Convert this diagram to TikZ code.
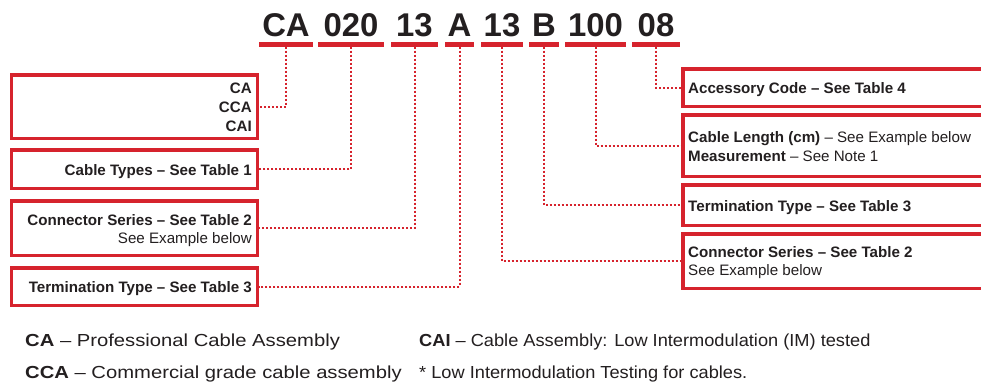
\documentclass[tikz,border=0pt]{standalone}
\usepackage{fontspec}
\setmainfont{Liberation Sans}
\newfontfamily\botL[FakeStretch=1.16]{Liberation Sans}
\newfontfamily\botR[FakeStretch=1.045]{Liberation Sans}
\definecolor{cred}{RGB}{214,35,45}
\definecolor{ink}{RGB}{35,31,32}
\begin{document}
\begin{tikzpicture}[x=1bp,y=-1bp,
  box/.style={draw=cred,line width=3.5bp,inner sep=0pt,rectangle,fill=white},
  uline/.style={fill=cred,inner sep=0pt,minimum height=5bp,rectangle},
  code/.style={font=\fontsize{33}{33}\selectfont\bfseries,text=ink,inner sep=0pt,anchor=base},
  lbl/.style={font=\fontsize{15.2}{18}\selectfont,text=ink,inner sep=0pt},
  conn/.style={draw=cred,line width=2bp,dash pattern=on 2bp off 2bp},
  botl/.style={font=\botL\fontsize{17.5}{20}\selectfont,text=ink,inner sep=0pt,anchor=base west},
  botr/.style={font=\botR\fontsize{17.5}{20}\selectfont,text=ink,inner sep=0pt,anchor=base west}]
\clip (0,0) rectangle (981,386);
\fill[white] (0,0) rectangle (981,386);

% title code
\node[code] (c1) at (286,36.5) {CA};
\node[code] (c2) at (351,36.5) {020};
\node[code] (c3) at (414.5,36.5) {13};
\node[code] (c4) at (459.5,36.5) {A};
\node[code] (c5) at (502,36.5) {13};
\node[code] (c6) at (544,36.5) {B};
\node[code] (c7) at (595.5,36.5) {100};
\node[code] (c8) at (656,36.5) {08};

% underlines
\node[uline,minimum width=54bp] (u1) at (286,44) {};
\node[uline,minimum width=66bp] (u2) at (351,44) {};
\node[uline,minimum width=47bp] (u3) at (414.5,44) {};
\node[uline,minimum width=29bp] (u4) at (459.5,44) {};
\node[uline,minimum width=42bp] (u5) at (502,44) {};
\node[uline,minimum width=30bp] (u6) at (544,44) {};
\node[uline,minimum width=61bp] (u7) at (595.5,44) {};
\node[uline,minimum width=48bp] (u8) at (656,44) {};

% left boxes
\node[box,minimum width=245.5bp,minimum height=63.5bp] (bL1) at (134.5,106.5) {};
\node[box,minimum width=245.5bp,minimum height=38.5bp] (bL2) at (134.5,169) {};
\node[box,minimum width=245.5bp,minimum height=54.5bp] (bL3) at (134.5,228) {};
\node[box,minimum width=245.5bp,minimum height=37.5bp] (bL4) at (134.5,286.5) {};

% right boxes
\node[box,minimum width=320bp,minimum height=37.5bp] (bR1) at (842.75,87.5) {};
\node[box,minimum width=320bp,minimum height=61.5bp] (bR2) at (842.75,145.5) {};
\node[box,minimum width=320bp,minimum height=40.5bp] (bR3) at (842.75,205) {};
\node[box,minimum width=320bp,minimum height=54.5bp] (bR4) at (842.75,261) {};

% connectors
\draw[conn] (u1.south) |- (bL1.east);
\draw[conn] (u2.south) |- (bL2.east);
\draw[conn] (u3.south) |- (bL3.east);
\draw[conn] (u4.south) |- (bL4.east);
\draw[conn] (u5.south) |- (bR4.west);
\draw[conn] (u6.south) |- (bR3.west);
\draw[conn] (u7.south) |- (bR2.west);
\draw[conn] (u8.south) |- (bR1.west);

% left box texts
\node[lbl,anchor=base east] (t1a) at (252,93) {\bfseries CA};
\node[lbl,anchor=base east] (t1b) at (252,112) {\bfseries CCA};
\node[lbl,anchor=base east] (t1c) at (252,131) {\bfseries CAI};
\node[lbl,anchor=base east] (t2) at (252,175) {\bfseries Cable Types – See Table 1};
\node[lbl,anchor=base east] (t3a) at (252,225) {\bfseries Connector Series – See Table 2};
\node[lbl,anchor=base east] (t3b) at (252,243) {See Example below};
\node[lbl,anchor=base east] (t4) at (252,292) {\bfseries Termination Type – See Table 3};

% right box texts
\node[lbl,anchor=base west] (r1) at (688,93) {\bfseries Accessory Code – See Table 4};
\node[lbl,anchor=base west] (r2a) at (688,142) {\textbf{Cable Length (cm)} – See Example below};
\node[lbl,anchor=base west] (r2b) at (688,161) {\textbf{Measurement} – See Note 1};
\node[lbl,anchor=base west] (r3) at (688,211) {\bfseries Termination Type – See Table 3};
\node[lbl,anchor=base west] (r4a) at (688,257) {\bfseries Connector Series – See Table 2};
\node[lbl,anchor=base west] (r4b) at (688,275) {See Example below};

% bottom notes
\node[botl] (n1) at (25,346.5) {\textbf{CA} – Professional Cable Assembly};
\node[botl] (n2) at (25,378) {\textbf{CCA} – Commercial grade cable assembly};
\node[botr] (n3) at (419,346.5) {\textbf{CAI} – Cable Assembly: Low Intermodulation (IM) tested};
\node[botr] (n4) at (419,378) {* Low Intermodulation Testing for cables.};
\end{tikzpicture}
\end{document}
